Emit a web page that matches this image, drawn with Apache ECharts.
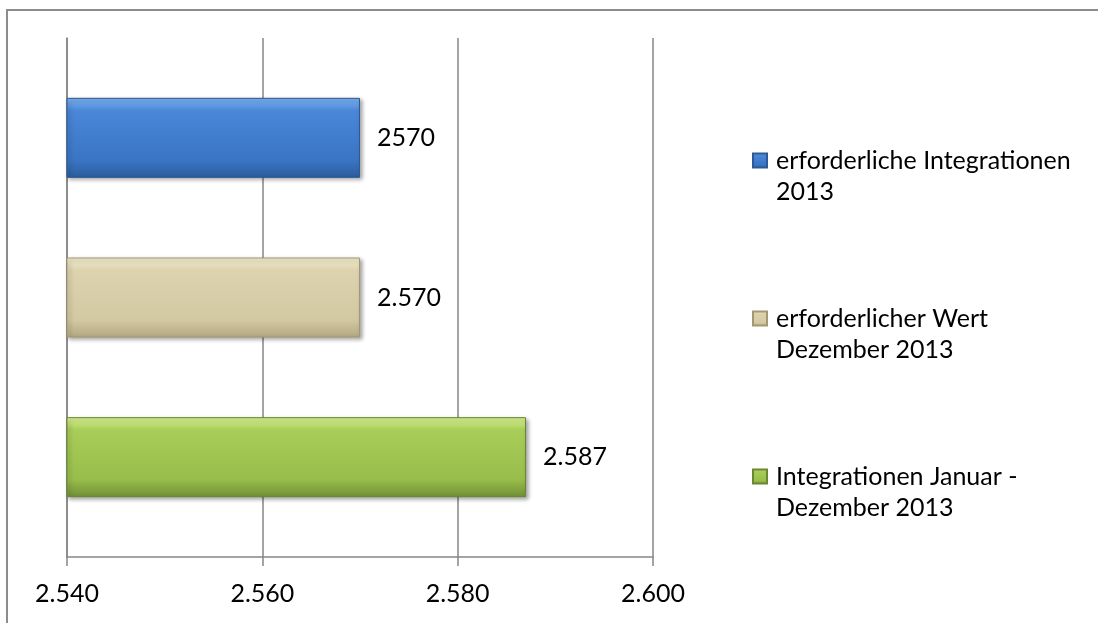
<!DOCTYPE html>
<html>
<head>
<meta charset="utf-8">
<script src="https://cdn.jsdelivr.net/npm/echarts@6/dist/echarts.min.js"></script>
<style>
  html, body { margin: 0; padding: 0; background: #fff; }
  #frame { position: absolute; left: 6px; top: 9px; width: 1100px; height: 700px; border: 2px solid #8c8c8c; box-sizing: border-box; }
  #chart { position: absolute; left: 0; top: 0; width: 1098px; height: 623px; }
</style>
</head>
<body>
<div id="frame"></div>
<div id="chart"></div>
<script>
var categories = ['erforderliche Integrationen\n2013', 'erforderlicher Wert\nDezember 2013', 'Integrationen Januar -\nDezember 2013'];
var values = [2570, 2570, 2587];
var valueLabels = ['2570', '2.570', '2.587'];
var axisMin = 2540, axisMax = 2600, axisStep = 20;

var FONT = 'Lato';
var FS = 25;
var fills = [
  ['#80b3f1', '#4a87d8', '#3a75c4', '#2b5c9c'],
  ['#f3ecce', '#ddd3ae', '#d2c8a2', '#b3a882'],
  ['#daf394', '#a8cd58', '#98bd4b', '#718f35']
];
var borders = ['#2c5a96', '#a39873', '#6a8731'];

function grad(c) {
  return new echarts.graphic.LinearGradient(0, 0, 0, 1, [
    { offset: 0, color: c[0] },
    { offset: 0.16, color: c[1] },
    { offset: 0.78, color: c[2] },
    { offset: 1, color: c[3] }
  ]);
}
function fmtNum(v) { return String(v).replace(/\B(?=(\d{3})+(?!\d))/g, '.'); }

var chart = echarts.init(document.getElementById('chart'));
var series = categories.map(function (name, i) {
  var d = categories.map(function (_, j) { return j === i ? values[i] : null; });
  return {
    name: name,
    type: 'bar',
    xAxisIndex: 1,
    yAxisIndex: 1,
    barWidth: 80,
    barGap: '-100%',
    data: d,
    itemStyle: {
      color: grad(fills[i]),
      borderColor: borders[i],
      borderWidth: 1,
      shadowColor: 'rgba(0,0,0,0.35)',
      shadowBlur: 4,
      shadowOffsetX: 2,
      shadowOffsetY: 2
    },
    label: {
      show: true,
      position: 'right',
      distance: 17,
      color: '#000',
      fontFamily: FONT,
      fontSize: FS,
      formatter: function () { return valueLabels[i]; }
    }
  };
});

chart.setOption({
  animation: false,
  backgroundColor: 'transparent',
  grid: [
    { left: 67, right: 445, top: 38, bottom: 66, containLabel: false },
    { left: 67, right: 445, top: 58, bottom: 86, containLabel: false }
  ],
  legend: {
    orient: 'vertical',
    left: 752,
    top: 114,
    padding: 0,
    itemWidth: 14,
    itemHeight: 14,
    itemGap: 65,
    icon: 'rect',
    data: categories,
    formatter: function (n) { return '\n' + n; },
    textStyle: { fontFamily: FONT, fontSize: FS, color: '#000', lineHeight: 31, padding: [0, 0, 0, 4] }
  },
  xAxis: [{
    gridIndex: 0,
    type: 'value',
    min: axisMin,
    max: axisMax,
    interval: axisStep,
    axisLine: { show: true, lineStyle: { color: '#868686', width: 1.5 } },
    axisTick: { show: true, length: 9, lineStyle: { color: '#868686', width: 1.5 } },
    splitLine: { show: true, lineStyle: { color: '#868686', width: 1.5 } },
    axisLabel: { color: '#000', fontFamily: FONT, fontSize: FS, margin: 24, formatter: fmtNum }
  }, {
    gridIndex: 1,
    type: 'value',
    min: axisMin,
    max: axisMax,
    interval: axisStep,
    show: false
  }],
  yAxis: [{
    gridIndex: 0,
    type: 'category',
    inverse: true,
    data: categories,
    axisLine: { show: true, lineStyle: { color: '#868686', width: 1.5 } },
    axisTick: { show: false },
    axisLabel: { show: false }
  }, {
    gridIndex: 1,
    type: 'category',
    inverse: true,
    data: categories,
    show: false
  }],
  series: series
});
</script>
</body>
</html>
